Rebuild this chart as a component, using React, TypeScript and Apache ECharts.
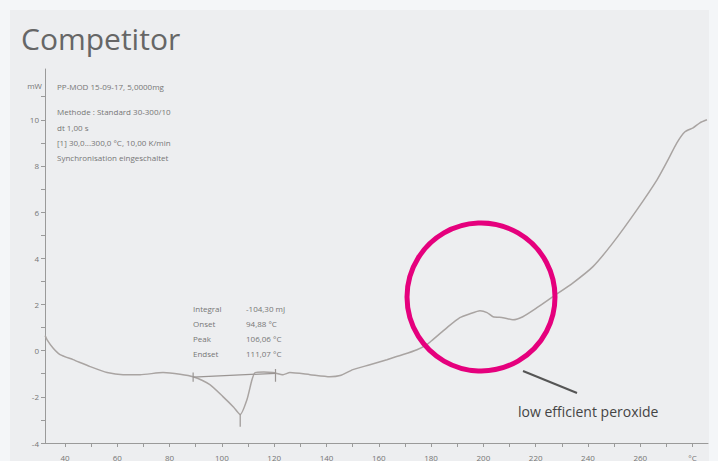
import React, { useEffect, useRef } from "react";
import * as echarts from "echarts";

// DSC curve (temperature in °C, heat flow in mW)
const temps = [32.4, 33.1, 35.5, 38.1, 43.1, 49.6, 56.1, 62.2, 68.7, 77.5, 84.0, 89.0, 95.4, 100.4, 104.5, 107.0, 109.6, 111.5, 112.7, 116.0, 119.5, 123.4, 126.0, 133.7, 141.3, 145.2, 150.1, 156.6, 163.1, 169.3, 174.6, 178.4, 180.7, 186.1, 191.0, 194.9, 198.7, 201.4, 203.7, 207.5, 211.3, 215.1, 220.5, 226.6, 234.3, 241.9, 249.6, 258.7, 266.4, 270.2, 274.0, 277.1, 280.2, 282.8, 285.5];
const heatFlow = [0.65, 0.48, 0.1, -0.17, -0.39, -0.69, -0.95, -1.04, -1.04, -0.95, -1.02, -1.13, -1.47, -1.99, -2.45, -2.77, -2.12, -1.26, -0.95, -0.93, -0.95, -1.04, -0.95, -1.04, -1.13, -1.08, -0.82, -0.61, -0.39, -0.17, 0.04, 0.26, 0.48, 1.0, 1.43, 1.6, 1.73, 1.65, 1.47, 1.43, 1.34, 1.47, 1.86, 2.34, 2.94, 3.64, 4.68, 6.1, 7.4, 8.18, 9.0, 9.48, 9.65, 9.87, 10.0];

// integration baseline and markers
const baselineTemps = [89.0, 120.5];
const baselineValues = [-1.15, -0.98];
const onsetMarkTemps = [89.0, 89.0];
const onsetMarkValues = [-0.95, -1.35];
const endMarkTemps = [120.5, 120.5];
const endMarkValues = [-0.8, -1.35];
const peakMarkTemps = [107.0, 107.0];
const peakMarkValues = [-2.77, -3.3];

const xLabelValues = [40, 60, 80, 100, 120, 140, 160, 180, 200, 220, 240, 260, 280];
const xTickValues = [40, 50, 60, 70, 80, 90, 100, 110, 120, 130, 140, 150, 160, 170, 180, 190, 200, 210, 220, 230, 240, 250, 260, 270, 280];
const yLabelValues = [-4, -2, 0, 2, 4, 6, 8, 10];
const yTickValues = [-4, -3, -2, -1, 0, 1, 2, 3, 4, 5, 6, 7, 8, 9, 10, 11];

const headerLines = ["PP-MOD 15-09-17, 5,0000mg", "Methode : Standard 30-300/10", "dt 1,00 s", "[1] 30,0...300,0 °C, 10,00 K/min", "Synchronisation eingeschaltet"];
const resultNames = ["Integral", "Onset", "Peak", "Endset"];
const resultValues = ["-104,30 mJ", "94,88 °C", "106,06 °C", "111,07 °C"];

const zip = (a: number[], b: number[]) => a.map((v, i) => [v, b[i]]);

export default function App() {
  const ref = useRef<HTMLDivElement>(null);
  useEffect(() => {
    document.body.style.margin = "0";
    if (!ref.current) return;
    const chart = echarts.init(ref.current, null, { renderer: "svg" });
    const font = "'Open Sans', sans-serif";
    const small = { fontFamily: font, fontSize: 8, fill: "#767676" };
    const headerY = [86, 111, 127, 142, 157];
    const resultY = [308, 323, 338, 353];
    const graphic: any[] = [
      { type: "rect", z: -10, silent: true, shape: { x: 10, y: 10, width: 699, height: 451 }, style: { fill: "#edeef0" } },
      { type: "text", x: 21, y: 53, style: { text: "Competitor", fontFamily: font, fontSize: 30, fill: "#666666", textVerticalAlign: "bottom" } },
      { type: "text", x: 42, y: 85, style: { text: "mW", ...small, textAlign: "right", textVerticalAlign: "middle" } },
      ...headerLines.map((t, i) => ({ type: "text", x: 57, y: headerY[i], style: { text: t, ...small, textVerticalAlign: "middle" } })),
      ...resultNames.map((t, i) => ({ type: "text", x: 193, y: resultY[i], style: { text: t, ...small, textVerticalAlign: "middle" } })),
      ...resultValues.map((t, i) => ({ type: "text", x: 246, y: resultY[i], style: { text: t, ...small, textVerticalAlign: "middle" } })),
      { type: "circle", z: 10, shape: { cx: 481, cy: 297, r: 74 }, style: { fill: "none", stroke: "#e5007d", lineWidth: 5 } },
      { type: "line", z: 10, shape: { x1: 523, y1: 371, x2: 577, y2: 393 }, style: { stroke: "#555555", lineWidth: 2 } },
      { type: "text", x: 518, y: 411, style: { text: "low efficient peroxide", fontFamily: font, fontSize: 14, fill: "#444444", textVerticalAlign: "middle" } },
    ];
    const thin = (data: number[][]) => ({
      type: "line", data, showSymbol: false, lineStyle: { color: "#9a9593", width: 1.2 }, silent: true,
    });
    chart.setOption({
      animation: false,
      backgroundColor: "#f4f6f8",
      grid: { left: 45, right: 10, top: 69, bottom: 18, containLabel: false },
      xAxis: {
        type: "value", min: 32.35, max: 285.9,
        axisLine: { show: true, onZero: false, lineStyle: { color: "#9a9a9a", width: 1 } },
        axisTick: { show: true, length: 4, lineStyle: { color: "#9a9a9a" }, customValues: xTickValues },
        axisLabel: { customValues: xLabelValues, fontFamily: font, fontSize: 8, color: "#767676", margin: 10, formatter: (v: number) => (v === 280 ? "°C" : String(v)) },
        splitLine: { show: false },
      },
      yAxis: {
        type: "value", min: -4, max: 12.2,
        axisLine: { show: true, onZero: false, lineStyle: { color: "#9a9a9a", width: 1 } },
        axisTick: { show: true, length: 4, lineStyle: { color: "#9a9a9a" }, customValues: yTickValues },
        axisLabel: { customValues: yLabelValues, fontFamily: font, fontSize: 8, color: "#767676", margin: 6 },
        splitLine: { show: false },
      },
      graphic,
      series: [
        { type: "line", data: zip(temps, heatFlow), showSymbol: false, smooth: 0.2, lineStyle: { color: "#a9a4a2", width: 1.5 } },
        thin(zip(baselineTemps, baselineValues)),
        thin(zip(onsetMarkTemps, onsetMarkValues)),
        thin(zip(endMarkTemps, endMarkValues)),
        thin(zip(peakMarkTemps, peakMarkValues)),
      ],
    });
    return () => chart.dispose();
  }, []);
  return <div ref={ref} style={{ width: 718, height: 461 }} />;
}
